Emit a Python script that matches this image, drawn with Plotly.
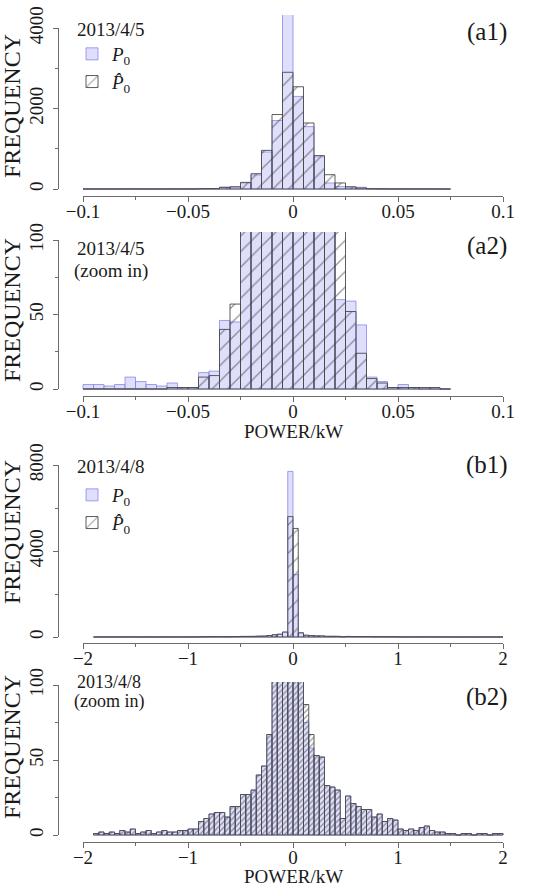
import numpy as np
import plotly.graph_objects as go

W, H = 539, 889
FONT = "Liberation Serif"

# ---------------- data ----------------
# 2013/4/5 : histogram bins of width 0.005 kW, first bin starts at -0.100 kW
a_bin_start = -0.100
a_bin_width = 0.005
a_P0 = [3, 3, 2, 3, 8, 5, 3, 2, 4, 1, 1,
        11, 12, 46, 45, 150, 350, 920, 1700, 5200,
        2300, 1550, 800, 150, 60, 59, 43, 8, 5, 1, 3, 1, 0, 0, 0]
a_P0hat = [0, 0, 0, 0, 0, 0, 0, 0, 1, 1, 1,
           8, 9, 40, 57, 165, 380, 960, 1850, 2900,
           2540, 1640, 830, 355, 150, 52, 24, 7, 4, 1, 1, 1, 1, 1, 0]

# 2013/4/8 : histogram bins of width 0.05 kW, first bin starts at -1.90 kW
b_bin_start = -1.90
b_bin_width = 0.05
b_P0hat = [1, 2, 1, 2, 1, 3, 2, 4, 1, 2,
           3, 1, 2, 3, 2, 2, 3, 3, 4, 4,
           9, 11, 14, 15, 15, 12, 19, 19, 27, 27,
           30, 40, 46, 67, 105, 130, 230, 5600, 5050, 200,
           87, 67, 53, 52, 33, 32, 30, 11, 26, 21,
           19, 17, 17, 12, 14, 9, 11, 10, 4, 3,
           4, 3, 5, 6, 3, 2, 2, 1, 1, 0,
           1, 1, 0, 1, 1, 0, 1, 1]
b_P0 = [1, 2, 1, 2, 1, 3, 2, 4, 1, 2,
        3, 1, 2, 3, 2, 2, 3, 3, 4, 4,
        9, 11, 14, 15, 15, 12, 19, 19, 27, 27,
        30, 40, 46, 67, 105, 130, 230, 7700, 2900, 180,
        75, 58, 53, 52, 33, 32, 30, 11, 26, 21,
        19, 17, 17, 12, 14, 9, 11, 10, 4, 3,
        4, 3, 5, 6, 3, 2, 2, 1, 1, 0,
        1, 1, 0, 1, 1, 0, 1, 1]

# axis tick ranges
a_xticks = [-0.1, 0.1]
b_xticks = [-2, 2]
a1_ymax, a2_ymax, b1_ymax, b2_ymax = 4000, 100, 8000, 100

# ---------------- helpers ----------------
def fx(p):
    return p / W

def fy(p):
    return 1 - p / H

def centers(start, width, n):
    return start + width * (np.arange(n) + 0.5)

X_LEFT, X_RIGHT, TICK_LO, TICK_HI = 58, 528, 83, 503
AX_COL = "#6b6b6b"
TXT_COL = "#1a1a1a"

panels = [
    dict(k=1, start=a_bin_start, w=a_bin_width, p0=a_P0, ph=a_P0hat, xt=a_xticks, xd=0.05,
         ymax=a1_ymax, yd=2000, y0=189, yt=28, ax=196, top=15, hs=11, leg="legend"),
    dict(k=2, start=a_bin_start, w=a_bin_width, p0=a_P0, ph=a_P0hat, xt=a_xticks, xd=0.05,
         ymax=a2_ymax, yd=50, y0=389, yt=240, ax=396, top=232, hs=11, leg=None),
    dict(k=3, start=b_bin_start, w=b_bin_width, p0=b_P0, ph=b_P0hat, xt=b_xticks, xd=1,
         ymax=b1_ymax, yd=4000, y0=637, yt=465, ax=643, top=458, hs=10, leg="legend2"),
    dict(k=4, start=b_bin_start, w=b_bin_width, p0=b_P0, ph=b_P0hat, xt=b_xticks, xd=1,
         ymax=b2_ymax, yd=50, y0=835, yt=685, ax=842, top=682, hs=4, leg=None),
]

fig = go.Figure()
layout = dict(
    width=W, height=H, margin=dict(l=0, r=0, t=0, b=0, autoexpand=False),
    paper_bgcolor="white", plot_bgcolor="rgba(0,0,0,0)",
    barmode="overlay", showlegend=True,
    font=dict(family=FONT, color=TXT_COL),
)

for p in panels:
    k = p["k"]
    d = k + 4
    n = len(p["p0"])
    xc = centers(p["start"], p["w"], n)
    xs = "" if k == 1 else str(k)
    show = p["leg"] is not None
    legkw = dict(legend=p["leg"]) if show else {}

    fig.add_trace(go.Bar(
        x=xc, y=p["p0"], width=p["w"], xaxis="x" + xs, yaxis="y" + xs,
        name="<i>P</i><sub>0</sub>", showlegend=show,
        marker=dict(color="rgba(200,200,248,0.58)",
                    line=dict(color="rgba(130,130,235,0.75)", width=1)),
        hoverinfo="skip", **legkw))
    fig.add_trace(go.Bar(
        x=xc, y=p["ph"], width=p["w"], xaxis="x" + xs, yaxis="y" + xs,
        name="<i>P\u0302</i><sub>0</sub>", showlegend=show,
        marker=dict(color="rgba(0,0,0,0)",
                    pattern=dict(shape="/", fgcolor="#303030", bgcolor="rgba(0,0,0,0)",
                                 size=p["hs"], solidity=0.12 if p["hs"] > 6 else 0.3),
                    line=dict(color="#4a4a4a", width=0.9)),
        hoverinfo="skip", **legkw))
    # dummy trace that carries the decoration axes
    fig.add_trace(go.Scatter(x=[None], y=[None], xaxis="x%d" % d, yaxis="y%d" % d,
                             showlegend=False, hoverinfo="skip"))

    lo, hi = p["xt"]
    sx = (TICK_HI - TICK_LO) / (hi - lo)
    sy = (p["y0"] - p["yt"]) / p["ymax"]

    layout["xaxis" + xs] = dict(domain=[fx(X_LEFT), fx(X_RIGHT)],
                                range=[lo - (TICK_LO - X_LEFT) / sx, hi + (X_RIGHT - TICK_HI) / sx],
                                visible=False, fixedrange=True, anchor="y" + xs, automargin=False)
    layout["yaxis" + xs] = dict(domain=[fy(p["ax"]), fy(p["top"])],
                                range=[-(p["ax"] - p["y0"]) / sy, (p["y0"] - p["top"]) / sy],
                                visible=False, fixedrange=True, anchor="x" + xs, automargin=False)
    tickfont = dict(family=FONT, size=19, color=TXT_COL)
    layout["xaxis%d" % d] = dict(
        domain=[fx(TICK_LO), fx(TICK_HI)], range=[lo, hi], anchor="free", position=fy(p["ax"]),
        showline=True, linecolor=AX_COL, linewidth=1, ticks="outside", ticklen=5,
        tickcolor=AX_COL, tickwidth=1, tickmode="linear", tick0=0, dtick=p["xd"],
        minor=dict(ticks="outside", ticklen=3, dtick=p["xd"] / 2, tickcolor=AX_COL),
        ticklabelstandoff=-7,
        showgrid=False, zeroline=False, tickfont=tickfont, fixedrange=True, automargin=False)
    layout["yaxis%d" % d] = dict(
        domain=[fy(p["y0"]), fy(p["yt"])], range=[0, p["ymax"]], anchor="free",
        position=fx(X_LEFT), side="left",
        showline=True, linecolor=AX_COL, linewidth=1, ticks="outside", ticklen=5,
        tickcolor=AX_COL, tickwidth=1, tickmode="linear", tick0=0, dtick=p["yd"],
        minor=dict(ticks="outside", ticklen=3, dtick=p["yd"] / 2, tickcolor=AX_COL),
        tickangle=-90, tickformat="d", ticklabelstandoff=2,
        showgrid=False, zeroline=False, tickfont=tickfont, fixedrange=True, automargin=False)

leg_common = dict(xanchor="left", yanchor="top", bgcolor="rgba(0,0,0,0)",
                  font=dict(family=FONT, size=19, color=TXT_COL), tracegroupgap=0,
                  itemclick=False, itemdoubleclick=False)
layout["legend"] = dict(x=fx(72), y=fy(35), **leg_common)
layout["legend2"] = dict(x=fx(72), y=fy(476), **leg_common)

ann = []
def text(s, x, y, size=19, xanchor="center", angle=0):
    ann.append(dict(text=s, x=fx(x), y=fy(y), xref="paper", yref="paper",
                    xanchor=xanchor, yanchor="middle", showarrow=False, textangle=angle,
                    font=dict(family=FONT, size=size, color=TXT_COL)))

for lbl, yy in [("(a1)", 32), ("(a2)", 246), ("(b1)", 465), ("(b2)", 697)]:
    text(lbl, 487, yy, size=25)
for yy in [106, 310, 532, 747]:
    text("FREQUENCY", 12, yy, size=24, angle=-90)
text("POWER/kW", 293, 431)
text("POWER/kW", 293, 876)
text("2013/4/5", 75, 30, xanchor="left")
text("2013/4/8", 75, 466, xanchor="left")
text("2013/4/5", 75, 248, xanchor="left")
text("(zoom in)", 72, 271, xanchor="left")
text("2013/4/8", 75, 682, size=18, xanchor="left")
text("(zoom in)", 72, 701, size=18, xanchor="left")
layout["annotations"] = ann

fig.update_layout(**layout)
fig.write_html("out.html")
